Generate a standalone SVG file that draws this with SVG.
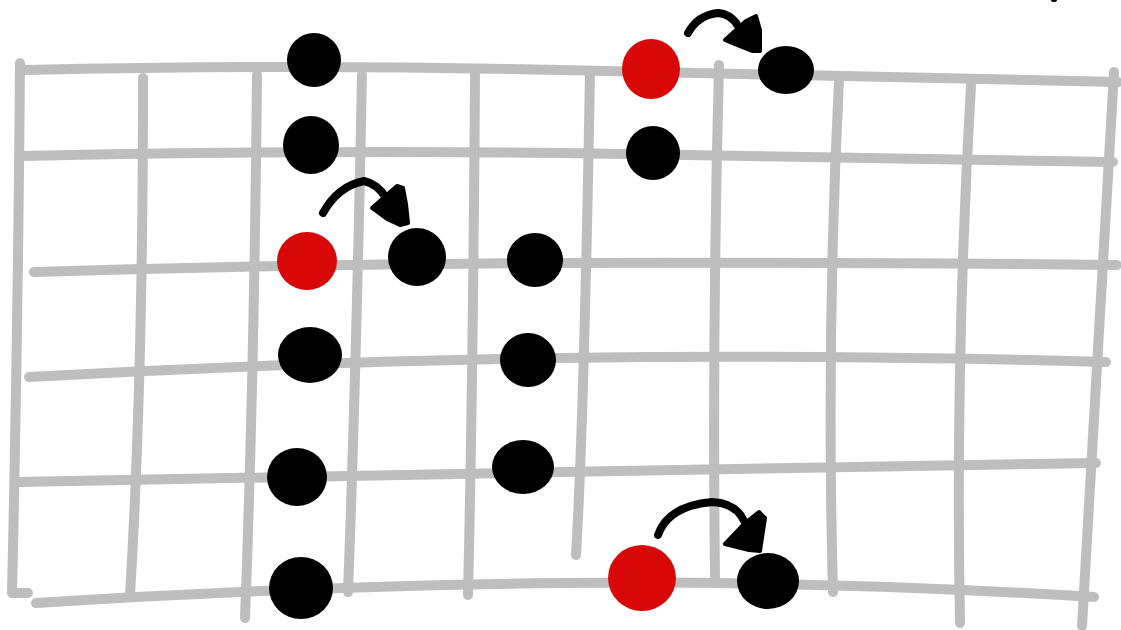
<svg xmlns="http://www.w3.org/2000/svg" width="1121" height="630" viewBox="0 0 1121 630">
  <style>
    .g { fill: none; stroke: #BEBEBE; stroke-width: 10; stroke-linecap: round; stroke-linejoin: round; }
    .dot { fill: #000000; }
    .root { fill: #D90808; }
    .arc { fill: none; stroke: #000000; stroke-width: 8; stroke-linecap: round; stroke-linejoin: round; }
    .head { fill: #000000; stroke: #000000; stroke-width: 4; stroke-linejoin: round; }
  </style>
  <rect width="1121" height="630" fill="#FFFFFF"/>
  <g id="grid">
    <path class="g" d="M25,70 Q300,64 560,70 T1118,82"/>
    <path class="g" d="M23,156 Q300,150 560,153 T1113,162"/>
    <path class="g" d="M34,272 Q300,264 560,263 T1117,265"/>
    <path class="g" d="M29,377 Q300,362 560,358 T1106,362"/>
    <path class="g" d="M18,482 Q300,476 560,472 T1096,463"/>
    <path class="g" d="M36,603 Q300,586 560,583 T1094,597"/>
    <path class="g" d="M20,63 Q18,330 12,593 L28,593"/>
    <path class="g" d="M143,78 Q143,380 130,595"/>
    <path class="g" d="M257,75 Q254,380 245,618"/>
    <path class="g" d="M362,75 Q356,380 348,592"/>
    <path class="g" d="M475,75 Q473,380 468,595"/>
    <path class="g" d="M590,72 Q584,420 576,555"/>
    <path class="g" d="M719,65 Q712,330 715,577"/>
    <path class="g" d="M839,80 Q826,340 833,592"/>
    <path class="g" d="M971,85 Q955,360 960,623"/>
    <path class="g" d="M1114,72 Q1100,300 1082,626"/>
  </g>
  <g id="connectors">
    <g id="arrow-1">
      <path class="arc" d="M323,213 Q338,186 364,181 Q378,184 386,198"/>
      <path class="head" d="M372,208 L397,186 L403,188 L406,204 L408,223 L400,225 L387,219 Z"/>
    </g>
    <g id="arrow-2">
      <path class="arc" d="M688,33 Q698,15 718,13 Q731,14 738,26"/>
      <path class="head" d="M725,40 L746,21 L756,16 L760,30 L760,51 L752,51 L737,45 Z"/>
    </g>
    <g id="arrow-3">
      <path class="arc" d="M658,535 Q668,506 712,502 Q736,503 744,521"/>
      <path class="head" d="M725,544 L745,523 L759,512 L765,518 L760,551 L749,550 Z"/>
    </g>
  </g>
  <g id="n1"><ellipse class="dot" cx="314" cy="60" rx="27" ry="27"/></g>
  <g id="n2"><ellipse class="dot" cx="311" cy="145" rx="28" ry="29"/></g>
  <g id="n3"><ellipse class="root" cx="307" cy="261" rx="30" ry="29"/></g>
  <g id="n4"><ellipse class="dot" cx="417" cy="257" rx="29" ry="29"/></g>
  <g id="n5"><ellipse class="dot" cx="535" cy="260" rx="28" ry="27"/></g>
  <g id="n6"><ellipse class="dot" cx="310" cy="355" rx="32" ry="28"/></g>
  <g id="n7"><ellipse class="dot" cx="528" cy="360" rx="28" ry="27"/></g>
  <g id="n8"><ellipse class="dot" cx="297" cy="477" rx="30" ry="29"/></g>
  <g id="n9"><ellipse class="dot" cx="523" cy="467" rx="31" ry="27"/></g>
  <g id="n10"><ellipse class="dot" cx="301" cy="588" rx="32" ry="31"/></g>
  <g id="n11"><ellipse class="root" cx="651" cy="69" rx="29" ry="30"/></g>
  <g id="n12"><ellipse class="dot" cx="653" cy="153" rx="27" ry="27"/></g>
  <g id="n13"><ellipse class="dot" cx="786" cy="70" rx="28" ry="24"/></g>
  <g id="n14"><ellipse class="root" cx="642" cy="578" rx="34" ry="33"/></g>
  <g id="n15"><ellipse class="dot" cx="768" cy="581" rx="31" ry="28"/></g>
  <ellipse cx="1054" cy="0" rx="3" ry="2" fill="#000000"/>
</svg>
